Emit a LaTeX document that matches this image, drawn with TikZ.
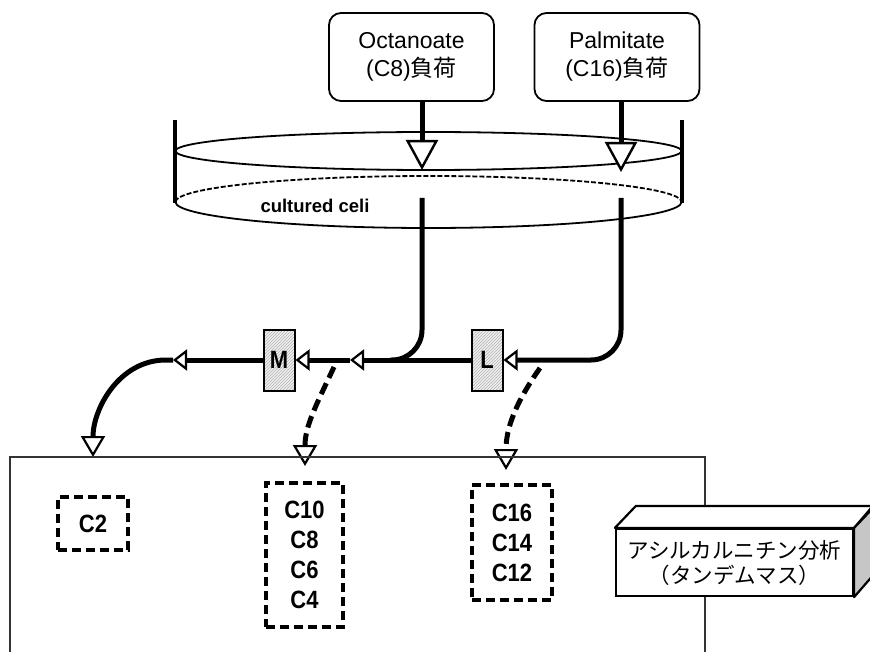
\documentclass[tikz,border=0pt]{standalone}
\usepackage{fontspec}
\setmainfont{Liberation Sans}
\newfontfamily\jp{Noto Sans CJK JP}
\newfontfamily\condsans[FakeStretch=0.88]{Liberation Sans}
\usetikzlibrary{arrows.meta,patterns,calc}
\begin{document}
\begin{tikzpicture}[x=1pt,y=-1pt,
  loadbox/.style={draw, line width=1.8pt, rounded corners=12pt, minimum width=165pt, minimum height=88pt, inner sep=0pt, align=center, font=\fontsize{23}{28}\selectfont},
  flow/.style={line width=5pt},
  bigtip/.style={-{Triangle[line width=2.4pt, fill=white, length=30pt, width=32pt]}},
  midtip/.style={-{Triangle[line width=2.2pt, fill=white, length=14pt, width=21pt]}},
  downtip/.style={-{Triangle[line width=2.2pt, fill=white, length=21pt, width=24pt]}},
  dflow/.style={line width=5pt, dash pattern=on 12pt off 6pt},
  enz/.style={draw, line width=2pt, minimum width=31pt, minimum height=61pt, inner sep=0pt, preaction={fill=gray!12}, pattern=north east lines, pattern color=gray!60, font=\condsans\bfseries\fontsize{25}{25}\selectfont},
  cbox/.style={draw, line width=3.5pt, dash pattern=on 9pt off 5pt, inner sep=0pt, align=center, font=\condsans\bfseries\fontsize{25}{30}\selectfont},
]
\useasboundingbox (0,0) rectangle (870,652);

% load boxes
\node[loadbox] (oct) at (411.5,57) {Octanoate\\(C8){\jp 負荷}};
\node[loadbox] (pal) at (617,57) {Palmitate\\(C16){\jp 負荷}};

% dish
\draw[line width=1.8pt] (428.5,151) ellipse [x radius=253pt, y radius=19pt];
\draw[line width=1.8pt, dash pattern=on 5pt off 2pt] (175.5,202) arc[start angle=180, end angle=0, x radius=253pt, y radius=26pt];
\draw[line width=1.8pt] (175.5,202) arc[start angle=180, end angle=360, x radius=253pt, y radius=26pt];
\draw[line width=3.5pt] (175,120) -- (175,203);
\draw[line width=3.5pt] (682,120) -- (682,203);
\node[font=\bfseries\fontsize{18.5}{18.5}\selectfont] (cc) at (315,206) {cultured celi};

% inputs
\coordinate (octin) at (422,170);
\coordinate (palin) at (621,172);
\draw[flow,bigtip] (oct.south -| octin) -- (octin);
\draw[flow,bigtip] (pal.south -| palin) -- (palin);

% enzymes
\node[enz] (M) at (279,360) {M};
\node[enz] (L) at (487,360) {L};

% outputs
\coordinate (octout) at (422,198);
\coordinate (palout) at (621,198);
\coordinate (join) at (390,360);
\coordinate (j1) at (350,360);
\coordinate (j2) at (173,360);
\coordinate (c2in) at (93,457);
\coordinate (d1s) at (334,367);
\coordinate (c10in) at (305,466);
\coordinate (d2s) at (540,368);
\coordinate (c16in) at (506,470);

\draw[flow, rounded corners=30pt] (octout) |- (join);
\draw[flow, midtip, rounded corners=30pt] (palout) |- (L.east);
\draw[flow, midtip] (L.west) -- (j1);
\draw[flow, midtip] (j1) -- (M.east);
\draw[flow, midtip] (M.west) -- (j2);
\draw[flow, downtip] (j2) -- (166,360) to[out=180,in=90] (c2in);

\draw[dflow, downtip] (d1s) to[out=-115,in=90] (c10in);
\draw[dflow, downtip] (d2s) to[out=-125,in=90] (c16in);

% analysis area
\draw[line width=1.4pt, black!80] (10,457) rectangle (705,680);

\node[cbox, minimum width=70pt, minimum height=53pt] (c2) at (93,523.5) {C2};
\node[cbox, minimum width=77pt, minimum height=144pt] (c10) at (304.5,555) {C10\\C8\\C6\\C4};
\node[cbox, minimum width=80pt, minimum height=115pt] (c16) at (512,542.5) {C16\\C14\\C12};

% mass spectrometer block
\node[draw, line width=2.2pt, fill=white, minimum width=237pt, minimum height=67pt, inner sep=0pt, align=center, font=\jp\fontsize{21.5}{25}\selectfont] (ms) at (734.5,562.5) {アシルカルニチン分析\\（タンデムマス）};
\draw[line width=2.2pt, fill=white, line join=round] (ms.north west) -- ++(21,-22) -- ++(237,0) -- (ms.north east) -- cycle;
\draw[line width=2.2pt, fill=gray!45, line join=round] (ms.north east) -- ++(21,-22) -- ++(0,67) -- (ms.south east) -- cycle;
\end{tikzpicture}
\end{document}
